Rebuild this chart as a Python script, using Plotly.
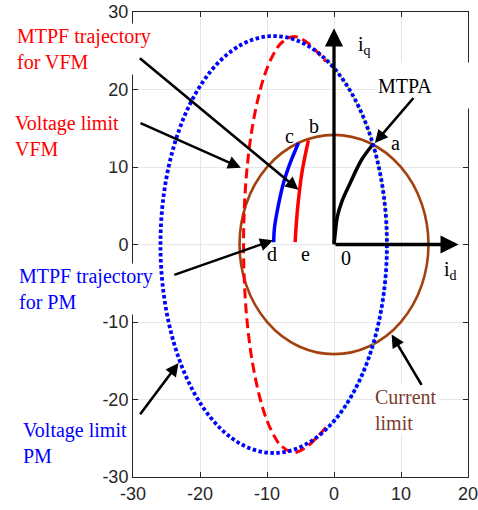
import plotly.graph_objects as go

# ---- data (id, iq in A) ----
# current limit circle and PM voltage-limit ellipse (bounding extents)
current_limit_x = [-14.1, 14.1]
current_limit_y = [-14.15, 14.15]
pm_vlimit_x = [-25.9, 7.9]
pm_vlimit_y = [-26.9, 26.9]

# VFM voltage-limit envelope
vfm_vlimit_id = [-1.2, -2.7, -4.2, -6.0, -7.87, -8.74, -9.87, -11.0, -12.22, -12.96, -13.37, -13.5,
                 -13.37, -12.96, -12.22, -11.0, -9.87, -8.74, -7.87, -6.0, -4.2, -2.7, -1.2]
vfm_vlimit_iq = [-23.6, -25.0, -26.2, -26.85, -26.0, -25.0, -23.0, -20.0, -15.0, -10.0, -5.0, 0.0,
                 5.0, 10.0, 15.0, 20.0, 23.0, 25.0, 26.0, 26.85, 26.2, 25.0, 23.6]

# flux-weakening portions along the right side of the PM ellipse
upper_edge_id = [-1.3, 0.0, 2.3, 5.0, 6.7, 7.6, 7.9]
upper_edge_iq = [24.1, 22.8, 20.0, 15.0, 10.0, 5.0, 0.0]
lower_edge_id = [7.9, 7.6, 6.7, 5.0, 2.3, -1.3]
lower_edge_iq = [0.0, -5.0, -10.0, -15.0, -20.0, -24.1]

# MTPA trajectory (0 -> a)
mtpa_id = [0.0, 0.15, 0.5, 1.2, 2.4, 4.1, 5.85]
mtpa_iq = [0.0, 1.2, 3.6, 5.6, 7.9, 10.9, 12.97]

# MTPF trajectory for PM (d -> c)
mtpf_pm_id = [-9.0, -8.9, -8.53, -7.54, -6.55, -5.31]
mtpf_pm_iq = [0.3, 2.0, 4.06, 7.93, 10.5, 13.1]

# MTPF trajectory for VFM (e -> b)
mtpf_vfm_id = [-5.8, -5.6, -5.3, -4.8, -4.3, -3.82]
mtpf_vfm_iq = [0.3, 3.0, 5.8, 9.2, 11.5, 13.43]

tick_x = [-30, -20, -10, 0, 10, 20]
tick_x_text = ["-30", "-20", "-10", "0", "10", "20"]
tick_y = [-30, -20, -10, 0, 10, 20, 30]
tick_y_text = ["-30", "-20", "-10", "0", "10", "20", "30"]

X_RANGE = [-30, 20]
Y_RANGE = [-30, 30]

RED = "#FF0000"
BLUE = "#0000FF"
BROWN = "#A3410F"
SERIF = "Liberation Serif, Times New Roman, serif"


def to_paper(x, y):
    """Convert (id, iq) to paper fractions so labels outside the axes still show."""
    return ((x - X_RANGE[0]) / (X_RANGE[1] - X_RANGE[0]),
            (y - Y_RANGE[0]) / (Y_RANGE[1] - Y_RANGE[0]))


fig = go.Figure()

fig.add_trace(go.Scatter(x=upper_edge_id, y=upper_edge_iq, mode="lines",
                         line=dict(color="#9ACD32", width=1.2, shape="spline"), hoverinfo="skip"))
fig.add_trace(go.Scatter(x=lower_edge_id, y=lower_edge_iq, mode="lines",
                         line=dict(color="#5FD0F5", width=1.2, shape="spline"), hoverinfo="skip"))
fig.add_trace(go.Scatter(x=vfm_vlimit_id, y=vfm_vlimit_iq, mode="lines",
                         line=dict(color=RED, width=3, dash="10px,5px", shape="spline"), hoverinfo="skip"))
fig.add_trace(go.Scatter(x=mtpa_id, y=mtpa_iq, mode="lines",
                         line=dict(color="black", width=3.5, shape="spline"), hoverinfo="skip"))
fig.add_trace(go.Scatter(x=mtpf_pm_id, y=mtpf_pm_iq, mode="lines",
                         line=dict(color=BLUE, width=3.5, shape="spline"), hoverinfo="skip"))
fig.add_trace(go.Scatter(x=mtpf_vfm_id, y=mtpf_vfm_iq, mode="lines",
                         line=dict(color=RED, width=3.5, shape="spline"), hoverinfo="skip"))

# current limit circle and PM voltage-limit ellipse
fig.add_shape(type="circle", xref="x", yref="y",
              x0=current_limit_x[0], x1=current_limit_x[1], y0=current_limit_y[0], y1=current_limit_y[1],
              line=dict(color=BROWN, width=2.6), layer="between")
fig.add_shape(type="circle", xref="x", yref="y",
              x0=pm_vlimit_x[0], x1=pm_vlimit_x[1], y0=pm_vlimit_y[0], y1=pm_vlimit_y[1],
              line=dict(color=BLUE, width=3.8, dash="3.5px,2.5px"), layer="above")

ann = []

# i_d / i_q axes arrows
ann.append(dict(x=18.6, y=0, ax=0, ay=0, xref="x", yref="y", axref="x", ayref="y", text="",
                showarrow=True, arrowhead=2, arrowsize=1.1, arrowwidth=3.3, arrowcolor="black"))
ann.append(dict(x=0, y=27.9, ax=0, ay=0, xref="x", yref="y", axref="x", ayref="y", text="",
                showarrow=True, arrowhead=2, arrowsize=1.1, arrowwidth=3.3, arrowcolor="black"))


def label(x, y, text, color, xanchor="left", size=20, **kw):
    px, py = to_paper(x, y)
    d = dict(x=px, y=py, xref="paper", yref="paper", text=text, showarrow=False, xanchor=xanchor,
             yanchor="middle", align="left", font=dict(family=SERIF, size=size, color=color),
             bgcolor="white", borderpad=1)
    d.update(kw)
    return d


# text boxes (drawn before the pointer arrows so the arrows sit on top)
ann.append(label(-47.6, 25.26, "MTPF trajectory<br>for VFM", RED))
ann.append(label(-47.9, 14.04, "Voltage limit<br>VFM", RED))
ann.append(label(-47.3, -5.7, "MTPF trajectory<br>for PM", BLUE))
ann.append(label(-46.7, -25.6, "Voltage limit<br>PM", BLUE))
ann.append(label(5.8, -21.4, "Current<br>limit", "#7B3B2E"))
ann.append(label(6.2, 20.46, "MTPA", "black", width=90, height=43))

# pointer arrows: (tail, head)
pointers = [
    ((-29.2, 24.2), (-5.3, 7.07)),
    ((-29.1, 15.75), (-13.9, 9.9)),
    ((-24.06, -3.99), (-9.1, 0.55)),
    ((-29.1, -22.1), (-23.2, -15.3)),
    ((12.05, 19.1), (6.1, 13.1)),
    ((13.2, -18.3), (8.6, -11.6)),
]
for (tx, ty), (hx, hy) in pointers:
    ann.append(dict(x=hx, y=hy, ax=tx, ay=ty, xref="x", yref="y", axref="x", ayref="y", text="",
                    showarrow=True, arrowhead=2, arrowsize=1.0, arrowwidth=2.6, arrowcolor="black"))

for x, y, t in [(9.23, 13.1, "a"), (-3.05, 15.3, "b"), (-6.7, 14.0, "c"),
                (-9.2, -1.2, "d"), (-4.2, -1.2, "e"), (1.8, -1.7, "0")]:
    ann.append(label(x, y, t, "black", xanchor="center", bgcolor="rgba(0,0,0,0)"))
ann.append(label(3.3, 25.7, "i<sub>q</sub>", "black", bgcolor="rgba(0,0,0,0)"))
ann.append(label(16.1, -3.4, "i<sub>d</sub>", "black", bgcolor="rgba(0,0,0,0)"))

axis_common = dict(showgrid=True, gridcolor="#E6E6E6", gridwidth=1, zeroline=False,
                   showline=True, linecolor="#262626", linewidth=1, mirror="ticks",
                   ticks="inside", ticklen=5, tickcolor="#262626", automargin=False,
                   ticklabeloverflow="allow",
                   tickfont=dict(family="Liberation Sans, Arial, sans-serif", size=18, color="#262626"))

fig.update_layout(
    width=478, height=510,
    margin=dict(l=133, r=10, t=12, b=33),
    paper_bgcolor="white", plot_bgcolor="white",
    showlegend=False,
    xaxis=dict(range=X_RANGE, tickvals=tick_x, ticktext=tick_x_text, **axis_common),
    yaxis=dict(range=Y_RANGE, tickvals=tick_y, ticktext=tick_y_text, **axis_common),
    annotations=ann,
)

fig.write_html("out.html")
